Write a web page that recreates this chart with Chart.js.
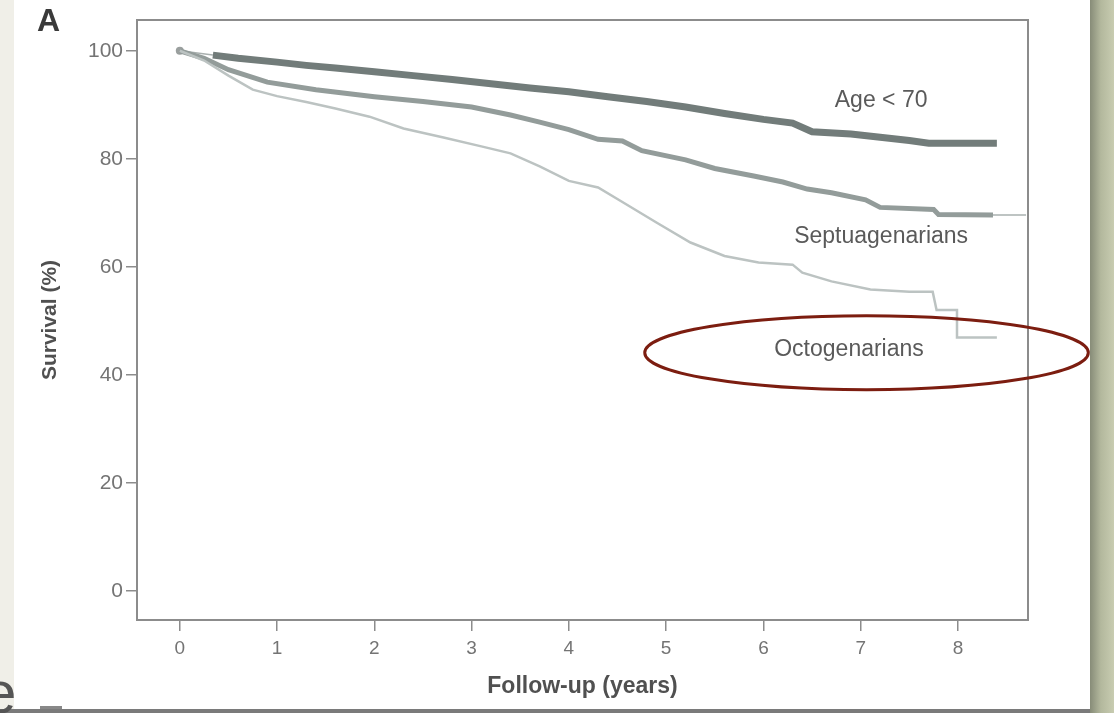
<!DOCTYPE html>
<html>
<head>
<meta charset="utf-8">
<title>Survival by age group</title>
<script src="https://cdn.jsdelivr.net/npm/chart.js@4/dist/chart.umd.min.js"></script>
<style>
  html, body { margin: 0; padding: 0; width: 1114px; height: 713px; overflow: hidden; background: #fff; }
  body { position: relative; font-family: "Liberation Sans", Arial, sans-serif; }
  #chart { position: absolute; left: 0; top: 0; }
  .strip-left { position: absolute; left: 0; top: 0; width: 14px; height: 713px; background: #f0efe8; }
  .strip-right { position: absolute; left: 1090px; top: 0; width: 24px; height: 713px;
    background: linear-gradient(to right, #878c78, #b3b89d 45%, #c8ccb1); }
  .bottom-line { position: absolute; left: 0; top: 709px; width: 1090px; height: 4px; background: #7a7a7a; }
  .bottom-mark { position: absolute; left: 40px; top: 706px; width: 22px; height: 3px; background: #888; }
  .panel { position: absolute; left: 37px; top: 2px; font: bold 32px "Liberation Sans", Arial, sans-serif; color: #3a3a3a; }
  .frag { position: absolute; left: -17px; top: 658px; font: 60px "Liberation Sans", Arial, sans-serif; color: #555; }
</style>
</head>
<body>
<div class="strip-left"></div>
<canvas id="chart" width="1114" height="713"></canvas>
<div class="strip-right"></div>
<div class="bottom-line"></div>
<div class="bottom-mark"></div>
<div class="panel">A</div>
<div class="frag">e</div>
<script>
// tick values
const yearTicks = [0, 1, 2, 3, 4, 5, 6, 7, 8];
const survivalTicks = [0, 20, 40, 60, 80, 100];

// Age < 70
const youngYears = [0, 0.34, 0.6, 1.0, 1.3, 1.6, 2.0, 2.4, 2.8, 3.2, 3.6, 4.0, 4.4, 4.8, 5.2, 5.6, 6.0, 6.3, 6.5, 6.9, 7.2, 7.5, 7.7, 8.0, 8.4];
const youngSurv  = [100, 99.2, 98.6, 97.9, 97.3, 96.8, 96.1, 95.4, 94.7, 93.9, 93.1, 92.4, 91.5, 90.6, 89.6, 88.4, 87.3, 86.6, 85.0, 84.6, 84.0, 83.4, 82.9, 82.9, 82.9];

// Septuagenarians
const septYears = [0, 0.25, 0.5, 0.9, 1.4, 2.0, 2.5, 3.0, 3.4, 3.7, 4.0, 4.3, 4.55, 4.75, 5.2, 5.5, 5.9, 6.2, 6.45, 6.7, 7.05, 7.2, 7.75, 7.8, 8.36, 8.7];
const septSurv  = [100, 98.6, 96.5, 94.2, 92.8, 91.5, 90.6, 89.6, 88.1, 86.8, 85.4, 83.6, 83.3, 81.5, 79.8, 78.2, 76.8, 75.7, 74.4, 73.7, 72.4, 71.0, 70.6, 69.7, 69.6, 69.6];

// Octogenarians
const octoYears = [0, 0.25, 0.5, 0.75, 1.0, 1.3, 1.6, 1.95, 2.3, 2.7, 3.1, 3.4, 3.7, 4.0, 4.3, 4.55, 4.9, 5.25, 5.6, 5.95, 6.3, 6.4, 6.7, 7.1, 7.5, 7.74, 7.78, 7.99, 7.99, 8.4];
const octoSurv  = [100, 98.2, 95.4, 92.8, 91.6, 90.5, 89.3, 87.8, 85.6, 84.0, 82.3, 81.0, 78.6, 75.9, 74.7, 72.0, 68.2, 64.5, 62.0, 60.8, 60.4, 58.9, 57.3, 55.8, 55.4, 55.4, 52.0, 52.0, 46.9, 46.9];

// curve labels and where they sit (data units)
const curveLabels = ['Age < 70', 'Septuagenarians', 'Octogenarians'];
const labelYears = [7.21, 7.21, 6.88];
const labelSurv = [90.7, 65.6, 44.6];

// red ellipse drawn round the Octogenarians label
const ring = { x: 7.06, y: 44.1, rx: 2.28, ry: 6.85 };

const pts = (xs, ys) => xs.map((x, i) => ({ x: x, y: ys[i] }));
const FONT = '"Liberation Sans", Arial, sans-serif';

const framePlugin = {
  id: 'frame',
  beforeDatasetsDraw(chart) {
    const a = chart.chartArea, ctx = chart.ctx;
    ctx.save();
    ctx.strokeStyle = '#8c8c8c';
    ctx.lineWidth = 2;
    ctx.strokeRect(a.left, a.top, a.right - a.left, a.bottom - a.top);
    ctx.restore();
  },
  afterDraw(chart) {
    const ctx = chart.ctx, xs = chart.scales.x, ys = chart.scales.y;
    ctx.save();
    ctx.fillStyle = '#5a5a5a';
    ctx.font = '23px ' + FONT;
    ctx.textAlign = 'center';
    ctx.textBaseline = 'middle';
    curveLabels.forEach((t, i) => {
      ctx.fillText(t, xs.getPixelForValue(labelYears[i]), ys.getPixelForValue(labelSurv[i]));
    });
    // ellipse
    const cx = xs.getPixelForValue(ring.x), cy = ys.getPixelForValue(ring.y);
    const rx = xs.getPixelForValue(ring.x + ring.rx) - cx;
    const ry = cy - ys.getPixelForValue(ring.y + ring.ry);
    ctx.strokeStyle = '#7c1d10';
    ctx.lineWidth = 3;
    ctx.beginPath();
    ctx.ellipse(cx, cy, rx, ry, 0, 0, Math.PI * 2);
    ctx.stroke();
    ctx.restore();
  }
};

new Chart(document.getElementById('chart'), {
  type: 'line',
  data: {
    datasets: [
      {
        label: 'Octogenarians',
        data: pts(octoYears, octoSurv),
        borderColor: '#bcc3c2',
        borderWidth: 2.5,
        pointRadius: 0,
        tension: 0,
      },
      {
        label: 'Septuagenarians',
        data: pts(septYears, septSurv),
        borderColor: '#939c9a',
        borderWidth: 5,
        pointRadius: 0,
        tension: 0,
        segment: {
          borderWidth: ctx => ctx.p1DataIndex === septYears.length - 1 ? 1.5 : 5,
          borderColor: ctx => ctx.p1DataIndex === septYears.length - 1 ? '#a9b0af' : '#939c9a',
        },
      },
      {
        label: 'Age < 70',
        data: pts(youngYears, youngSurv),
        borderColor: '#727c7a',
        borderWidth: 7,
        tension: 0,
        pointRadius: ctx => ctx.dataIndex === 0 ? 4 : 0,
        pointBackgroundColor: '#9a9f9e',
        pointBorderWidth: 0,
        segment: {
          borderWidth: ctx => ctx.p0DataIndex === 0 ? 1.5 : 7,
          borderColor: ctx => ctx.p0DataIndex === 0 ? '#a9b0af' : '#727c7a',
        },
      },
    ]
  },
  options: {
    responsive: false,
    animation: false,
    devicePixelRatio: 1,
    layout: { padding: { top: 20, right: 86, left: 0, bottom: 0 } },
    plugins: { legend: { display: false }, tooltip: { enabled: false } },
    scales: {
      x: {
        type: 'linear', min: -0.44, max: 8.72,
        afterBuildTicks: s => { s.ticks = yearTicks.map(v => ({ value: v })); },
        afterFit: s => { s.height = 93; },
        border: { display: false },
        grid: { drawOnChartArea: false, drawTicks: true, tickLength: 11, color: '#8c8c8c', lineWidth: 1.5 },
        ticks: { color: '#747474', font: { family: FONT, size: 19 }, padding: 6, maxRotation: 0 },
        title: { display: true, text: 'Follow-up (years)', color: '#505050',
                 font: { family: FONT, size: 23, weight: 'bold' }, padding: { top: 0, bottom: 13 } }
      },
      y: {
        type: 'linear', min: -5.4, max: 105.7,
        afterBuildTicks: s => { s.ticks = survivalTicks.map(v => ({ value: v })); },
        afterFit: s => { s.width = 137; },
        border: { display: false },
        grid: { drawOnChartArea: false, drawTicks: true, tickLength: 11, color: '#8c8c8c', lineWidth: 1.5 },
        ticks: { color: '#747474', font: { family: FONT, size: 21 }, padding: 3 },
        title: { display: true, text: 'Survival (%)', color: '#505050',
                 font: { family: FONT, size: 21, weight: 'bold' }, padding: { top: 38, bottom: 0 } }
      }
    }
  },
  plugins: [framePlugin]
});
</script>
</body>
</html>
